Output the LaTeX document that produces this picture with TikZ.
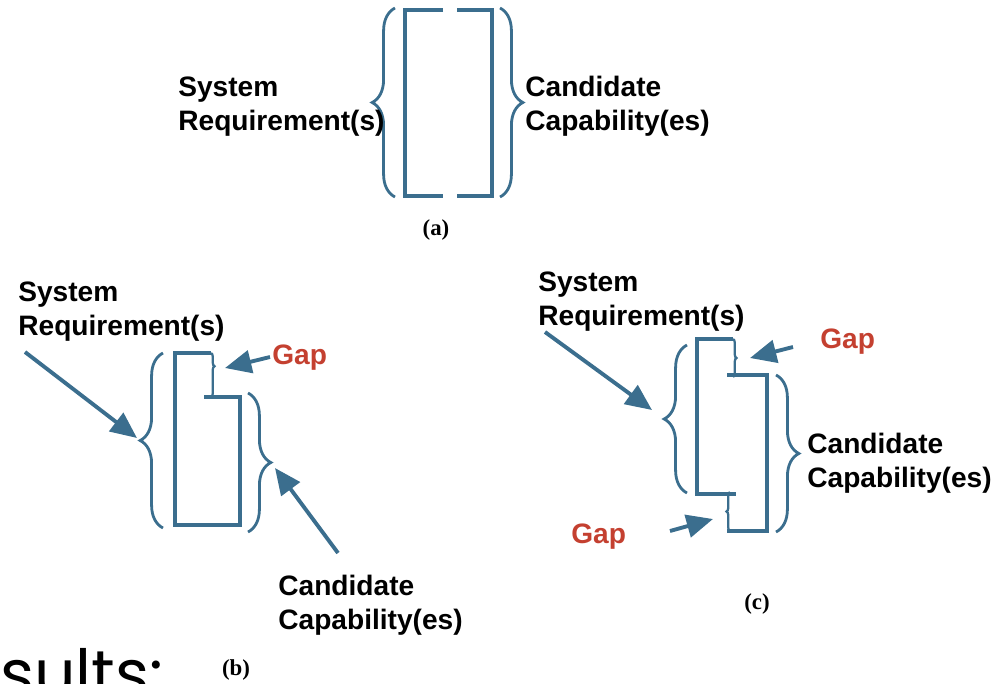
\documentclass[tikz,border=0pt]{standalone}
\usepackage{fontspec}
\setmainfont{Liberation Sans}
\newfontfamily\capfont{Liberation Serif}
\newfontfamily\bigfont{Poppins}
\usetikzlibrary{arrows.meta,decorations.pathreplacing}
\definecolor{boxblue}{RGB}{59,110,142}
\definecolor{gapred}{RGB}{196,64,48}

\begin{document}
\begin{tikzpicture}[x=0.02cm,y=-0.02cm,
  outline/.style={draw=boxblue,line width=2.4pt},
  bracemark/.style={draw=boxblue,line width=1.6pt,decorate,decoration={brace,amplitude=13pt}},
  gapmark/.style={draw=boxblue,line width=1.3pt,decorate,decoration={brace,amplitude=2pt}},
  pointer/.style={draw=boxblue,line width=2.2pt,-{Triangle[length=15pt,width=13pt]}},
  txt/.style={font=\bfseries\fontsize{16}{18.8}\selectfont,align=left,anchor=base west,inner sep=0pt},
  gaptxt/.style={txt,text=gapred},
  tag/.style={font=\capfont\bfseries\fontsize{13}{15}\selectfont,inner sep=0pt}]
\useasboundingbox (0,0) rectangle (997,683);
\begin{scope}
\clip (0,0) rectangle (997,683);
\node[font=\bigfont\fontsize{37}{37}\selectfont,anchor=base west,inner sep=0pt] (results) at (0,696) {sults:};
\end{scope}

\draw[outline] (443,10) -- (405,10) -- (405,196) -- (443,196);
\draw[outline] (457,10) -- (492,10) -- (492,196) -- (457,196);
\draw[bracemark] (395,197) -- (395,8);
\draw[bracemark] (500,8) -- (500,197);
\node[txt] (asys) at (178,130) {System\\Requirement(s)};
\node[txt] (acap) at (525,130) {Candidate\\Capability(es)};
\node[tag] (alab) at (436,230) {(a)};

\draw[outline] (211,353) -- (175,353) -- (175,525) -- (240,525) -- (240,397) -- (204,397);
\draw[gapmark,decoration={aspect=0.3}] (211,353) -- (211,397);
\draw[bracemark] (163,528) -- (163,353);
\draw[bracemark] (248,393) -- (248,532);
\node[txt] (bsys) at (18,335) {System\\Requirement(s)};
\node[gaptxt] (bgap) at (272,364) {Gap};
\node[txt] (bcap) at (278,629) {Candidate\\Capability(es)};
\node[tag] (blab) at (236,670) {(b)};
\coordinate (bsysT) at (25,352);
\coordinate (bsysH) at (137,438);
\coordinate (bgapT) at (270,357);
\coordinate (bgapH) at (225,368);
\coordinate (bcapT) at (338,553);
\coordinate (bcapH) at (275,468);
\draw[pointer] (bsysT) -- (bsysH);
\draw[pointer] (bgapT) -- (bgapH);
\draw[pointer] (bcapT) -- (bcapH);

\draw[outline] (733,339) -- (697,339) -- (697,494) -- (736,494);
\draw[outline] (727,375) -- (767,375) -- (767,531) -- (727,531);
\draw[gapmark] (733,339) -- (733,377);
\draw[gapmark] (730,531) -- (730,492);
\draw[bracemark] (687,493) -- (687,345);
\draw[bracemark] (776,375) -- (776,532);
\node[txt] (csys) at (538,325) {System\\Requirement(s)};
\node[gaptxt] (cgapa) at (820,348) {Gap};
\node[txt] (ccap) at (807,487) {Candidate\\Capability(es)};
\node[gaptxt] (cgapb) at (571,543) {Gap};
\node[tag] (clab) at (757,604) {(c)};
\coordinate (csysT) at (545,332);
\coordinate (csysH) at (652,410);
\coordinate (cgapaT) at (793,347);
\coordinate (cgapaH) at (750,358);
\coordinate (cgapbT) at (670,531);
\coordinate (cgapbH) at (713,519);
\draw[pointer] (csysT) -- (csysH);
\draw[pointer] (cgapaT) -- (cgapaH);
\draw[pointer] (cgapbT) -- (cgapbH);
\end{tikzpicture}
\end{document}
